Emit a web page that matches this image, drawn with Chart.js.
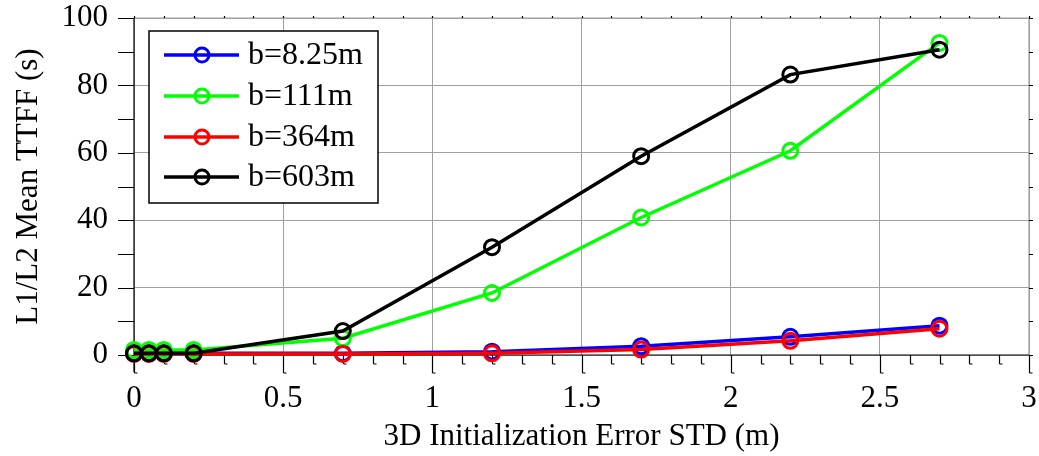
<!DOCTYPE html>
<html>
<head>
<meta charset="utf-8">
<script src="https://cdn.jsdelivr.net/npm/chart.js@4/dist/chart.umd.min.js"></script>
<style>
    html, body { margin: 0; padding: 0; background: #fff; }
    #wrap { width: 1039px; height: 456px; }
</style>
</head>
<body>
<div id="wrap"><canvas id="ttffChart" width="1039" height="456"></canvas></div>
<script>
// values
const initErrStd = [0, 0.05, 0.1, 0.2, 0.7, 1.2, 1.7, 2.2, 2.7];
const ttff_b825 = [0.5, 0.5, 0.5, 0.5, 0.5, 1.0, 2.6, 5.4, 8.7];
const ttff_b111 = [1.5, 1.5, 1.5, 1.5, 5.0, 18.4, 40.8, 60.6, 92.6];
const ttff_b364 = [0.3, 0.3, 0.3, 0.3, 0.3, 0.5, 1.6, 4.2, 7.8];
const ttff_b603 = [0.5, 0.5, 0.5, 0.5, 7.1, 32.0, 59.0, 83.2, 90.6];

const seriesLabels = ['b=8.25m', 'b=111m', 'b=364m', 'b=603m'];
const seriesColors = ['#0000ff', '#00ff00', '#ff0000', '#000000'];

const xTicks = [0, 0.5, 1, 1.5, 2, 2.5, 3];
const yTicks = [0, 20, 40, 60, 80, 100];

const FONT = '"Liberation Serif", "Times New Roman", serif';

function toPoints(ys) {
    return initErrStd.map((x, i) => ({ x: x, y: ys[i] }));
}

const allSeries = [ttff_b825, ttff_b111, ttff_b364, ttff_b603];

const datasets = allSeries.map((ys, i) => ({
    label: seriesLabels[i],
    data: toPoints(ys),
    borderColor: seriesColors[i],
    backgroundColor: 'transparent',
    pointBackgroundColor: 'transparent',
    pointBorderColor: seriesColors[i],
    pointRadius: 7.5,
    pointBorderWidth: 3,
    borderWidth: 3.5,
    tension: 0,
    clip: false,
    order: allSeries.length - i   // later series drawn on top, like MATLAB
}));

// axis lines, outward ticks (major + minor) and the grey top/right frame
const axesFrame = {
    id: 'axesFrame',
    beforeDatasetsDraw(chart) {
        const { ctx, chartArea: a, scales: { x, y } } = chart;
        ctx.save();
        // grey top / right edges
        ctx.strokeStyle = '#a0a0a0';
        ctx.lineWidth = 1.2;
        ctx.beginPath();
        ctx.moveTo(a.left, a.top); ctx.lineTo(a.right, a.top);
        ctx.lineTo(a.right, a.bottom);
        ctx.stroke();

        ctx.strokeStyle = '#000';
        ctx.lineWidth = 1.2;
        ctx.beginPath();
        ctx.moveTo(a.left, a.top); ctx.lineTo(a.left, a.bottom + 17);
        ctx.moveTo(a.left, a.bottom); ctx.lineTo(a.right, a.bottom);
        ctx.stroke();

        ctx.beginPath();
        // x ticks every 0.1
        for (let k = 0; k <= 30; k++) {
            const px = Math.round(x.getPixelForValue(k / 10)) + 0.5;
            const len = k % 5 === 0 ? 18 : 9;
            ctx.moveTo(px, a.bottom); ctx.lineTo(px, a.bottom + len);
            ctx.moveTo(px, a.bottom + len); ctx.lineTo(px + 3, a.bottom + len);
            ctx.moveTo(px, a.top); ctx.lineTo(px, a.top - 2);
        }
        // y ticks every 10
        for (let v = 0; v <= 100; v += 10) {
            const py = Math.round(y.getPixelForValue(v)) + 0.5;
            ctx.moveTo(a.left, py); ctx.lineTo(a.left - 16, py);
            ctx.moveTo(a.right, py); ctx.lineTo(a.right + 4, py);
        }
        ctx.stroke();
        ctx.restore();
    }
};

// legend box drawn inside the axes, top-left
const insetLegend = {
    id: 'insetLegend',
    afterDatasetsDraw(chart) {
        const { ctx } = chart;
        const box = { x: 149, y: 31, w: 229, h: 172 };
        const rowY = [55, 96, 137, 177];
        ctx.save();
        ctx.fillStyle = '#fff';
        ctx.fillRect(box.x, box.y, box.w, box.h);
        ctx.strokeStyle = '#000';
        ctx.lineWidth = 1.5;
        ctx.strokeRect(box.x, box.y, box.w, box.h);

        chart.data.datasets.forEach((ds, i) => {
            const yy = rowY[i];
            ctx.strokeStyle = ds.borderColor;
            ctx.lineWidth = 3.5;
            ctx.beginPath();
            ctx.moveTo(164, yy); ctx.lineTo(239, yy);
            ctx.stroke();
            ctx.lineWidth = 3;
            ctx.beginPath();
            ctx.arc(202, yy, 7, 0, Math.PI * 2);
            ctx.stroke();

            ctx.fillStyle = '#000';
            ctx.font = '32px ' + FONT;
            ctx.textAlign = 'left';
            ctx.textBaseline = 'middle';
            ctx.fillText(ds.label, 248, yy + 1);
        });
        ctx.restore();
    }
};

new Chart(document.getElementById('ttffChart'), {
    type: 'line',
    data: { datasets: datasets },
    options: {
        responsive: false,
        animation: false,
        devicePixelRatio: 1,
        layout: { autoPadding: false, padding: { left: 0, right: 10, top: 18, bottom: 0 } },
        plugins: {
            legend: { display: false },
            tooltip: { enabled: false }
        },
        scales: {
            x: {
                type: 'linear',
                min: 0,
                max: 3,
                afterBuildTicks: (s) => { s.ticks = xTicks.map(v => ({ value: v })); },
                afterFit: (s) => {
                    s.height = 101;
                    s.paddingLeft = 0; s.paddingRight = 0;
                },
                ticks: {
                    color: '#000',
                    font: { family: FONT, size: 31 },
                    padding: 25,
                    maxRotation: 0,
                    callback: (v) => String(v)
                },
                grid: { color: '#a0a0a0', lineWidth: 1, drawTicks: false },
                border: { display: false },
                title: {
                    display: true,
                    text: '3D Initialization Error STD (m)',
                    color: '#000',
                    font: { family: FONT, size: 31 },
                    padding: { top: 0, bottom: 1 }
                }
            },
            y: {
                type: 'linear',
                min: 0,
                max: 100,
                afterBuildTicks: (s) => { s.ticks = yTicks.map(v => ({ value: v })); },
                afterFit: (s) => {
                    s.width = 134;
                    s.paddingTop = 0; s.paddingBottom = 0;
                },
                ticks: {
                    color: '#000',
                    font: { family: FONT, size: 31 },
                    padding: 26
                },
                grid: { color: '#a0a0a0', lineWidth: 1, drawTicks: false },
                border: { display: false },
                title: {
                    display: true,
                    text: 'L1/L2 Mean TTFF (s)',
                    color: '#000',
                    font: { family: FONT, size: 31 },
                    padding: { top: 10, bottom: 0 }
                }
            }
        }
    },
    plugins: [axesFrame, insetLegend]
});
</script>
</body>
</html>
